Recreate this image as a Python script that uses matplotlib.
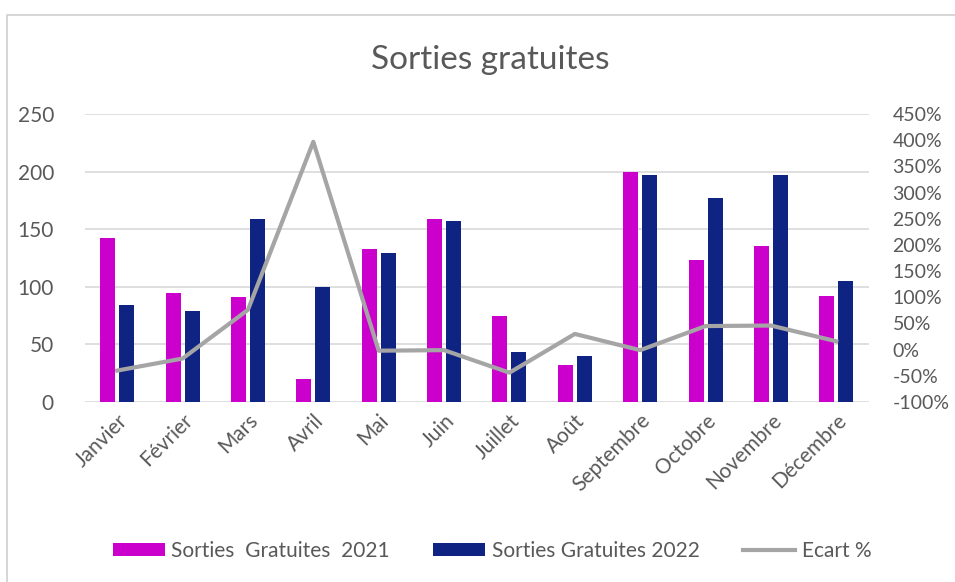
import matplotlib
matplotlib.use("Agg")
import matplotlib.pyplot as plt
from matplotlib.patches import Rectangle
import numpy as np

mois = ["Janvier", "Février", "Mars", "Avril", "Mai", "Juin", "Juillet",
        "Août", "Septembre", "Octobre", "Novembre", "Décembre"]
sorties_2021 = [142, 95, 91, 20, 133, 159, 75, 32, 200, 123, 135, 92]
sorties_2022 = [84, 79, 159, 100, 129, 157, 43, 40, 197, 177, 197, 105]
ecart_pct = [-40, -17, 76, 397, -2, -1, -44, 30, -1, 45, 46, 16]

left_ticks = [0, 50, 100, 150, 200, 250]
right_ticks = list(range(-100, 451, 50))

plt.rcParams["font.family"] = ["Lato", "DejaVu Sans"]
txt = "#595959"
magenta = "#CC00CC"
navy = "#0F2383"
grey = "#A5A5A5"

fig = plt.figure(figsize=(9.55, 5.82), dpi=100)
fig.patches.append(Rectangle((7 / 955, -0.1), 1.2, 1.1 - 15 / 582,
                             transform=fig.transFigure, fill=False,
                             edgecolor="#D0D0D0", linewidth=1.2))

ax = fig.add_axes([84.5 / 955, 1 - 402 / 582, 784.5 / 955, 288 / 582])
x = np.arange(len(mois))
w = 0.23
ax.bar(x - 0.145, sorties_2021, w, color=magenta, label="Sorties  Gratuites  2021", zorder=2)
ax.bar(x + 0.145, sorties_2022, w, color=navy, label="Sorties Gratuites 2022", zorder=2)
ax.set_xlim(-0.5, len(mois) - 0.5)
ax.set_ylim(0, 250)
ax.set_yticks(left_ticks)
ax.yaxis.grid(True, color="#D9D9D9", linewidth=1.2, zorder=0)
ax.set_axisbelow(True)
for s in ax.spines.values():
    s.set_visible(False)
ax.tick_params(axis="y", length=0, pad=22, labelsize=15, labelcolor=txt)
ax.tick_params(axis="x", length=0, pad=6, labelsize=15, labelcolor=txt)
ax.set_xticks(x)
ax.set_xticklabels(mois, rotation=45, ha="right", rotation_mode="anchor")

ax2 = ax.twinx()
ax2.plot(x, ecart_pct, color=grey, linewidth=3, label="Ecart %", zorder=3)
ax2.set_ylim(-100, 450)
ax2.set_yticks(right_ticks)
ax2.set_yticklabels([f"{t}%" for t in right_ticks])
for s in ax2.spines.values():
    s.set_visible(False)
ax2.tick_params(axis="y", length=0, pad=17, labelsize=14, labelcolor=txt)

fig.text(490 / 955, 1 - 60 / 582, "Sorties gratuites", ha="center", va="center",
         fontsize=24, color=txt)

h1, l1 = ax.get_legend_handles_labels()
h2, l2 = ax2.get_legend_handles_labels()
fig.legend(h1 + h2, l1 + l2, loc="center", bbox_to_anchor=(492 / 955, 1 - 551 / 582),
           ncol=3, frameon=False, fontsize=15, labelcolor=txt, handlelength=2.5,
           handleheight=0.55, handletextpad=0.3, columnspacing=2.1)

fig.savefig("out.png", dpi=100)
